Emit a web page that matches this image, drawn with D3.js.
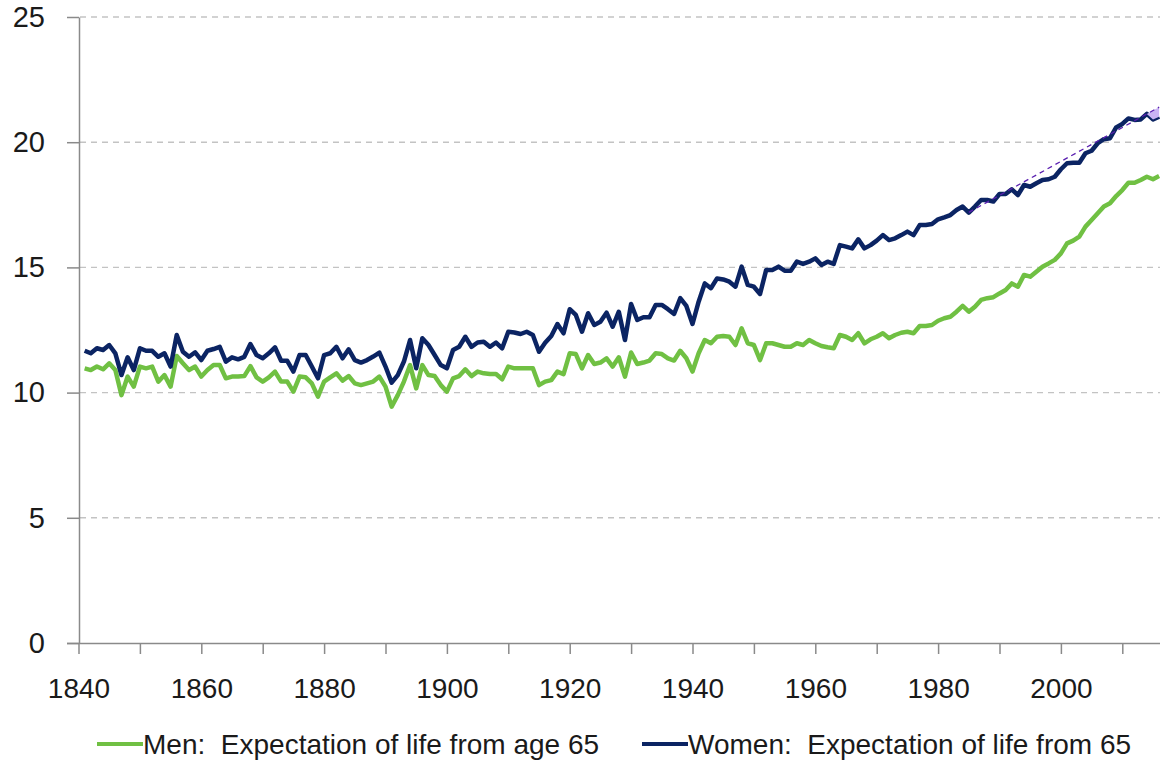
<!DOCTYPE html>
<html>
<head>
<meta charset="utf-8">
<script src="https://cdn.jsdelivr.net/npm/d3@7"></script>
<style>
  body { margin: 0; background: #fff; }
  text { font-family: "Liberation Sans", Arial, sans-serif; fill: #1a1a1a; }
</style>
</head>
<body>
<div id="chart"></div>
<script>
// years shown on the category axis
var years = d3.range(1841, 2017);
var men = [10.97,10.90,11.04,10.93,11.17,10.90,9.90,10.64,10.24,11.04,
  10.97,11.04,10.44,10.70,10.24,11.46,11.17,10.90,11.04,10.64,
  10.90,11.10,11.10,10.57,10.64,10.64,10.66,11.06,10.61,10.44,
  10.61,10.84,10.44,10.44,10.04,10.64,10.61,10.37,9.84,10.44,
  10.61,10.77,10.48,10.66,10.37,10.30,10.37,10.44,10.64,10.24,
  9.44,9.90,10.44,11.10,10.17,11.10,10.70,10.66,10.30,10.04,
  10.57,10.66,10.93,10.66,10.84,10.77,10.74,10.74,10.53,11.04,
  10.97,10.97,10.97,10.97,10.30,10.44,10.50,10.84,10.74,11.57,
  11.54,10.97,11.50,11.14,11.20,11.37,11.04,11.41,10.64,11.60,
  11.14,11.20,11.28,11.57,11.54,11.37,11.28,11.67,11.37,10.84,
  11.57,12.10,11.97,12.23,12.26,12.23,11.90,12.57,11.97,11.90,
  11.30,11.97,11.97,11.90,11.83,11.83,11.97,11.90,12.10,11.97,
  11.86,11.81,11.77,12.30,12.23,12.10,12.37,11.97,12.13,12.23,
  12.37,12.17,12.30,12.39,12.43,12.37,12.66,12.66,12.70,12.87,
  12.97,13.03,13.23,13.46,13.23,13.43,13.70,13.77,13.81,13.96,
  14.10,14.36,14.23,14.70,14.63,14.83,15.03,15.16,15.30,15.56,
  15.96,16.07,16.23,16.63,16.89,17.16,17.43,17.56,17.85,18.09,
  18.38,18.38,18.49,18.62,18.52,18.65];
var women = [11.67,11.57,11.77,11.70,11.90,11.57,10.70,11.41,10.90,11.77,
  11.67,11.67,11.43,11.57,11.04,12.30,11.63,11.43,11.61,11.30,
  11.67,11.74,11.83,11.24,11.41,11.33,11.43,11.94,11.50,11.37,
  11.57,11.81,11.27,11.27,10.84,11.50,11.50,11.04,10.57,11.50,
  11.57,11.83,11.37,11.73,11.30,11.20,11.30,11.44,11.60,11.04,
  10.40,10.70,11.24,12.10,10.97,12.17,11.90,11.50,11.10,10.97,
  11.70,11.83,12.23,11.83,12.00,12.03,11.83,12.00,11.77,12.43,
  12.40,12.34,12.43,12.30,11.63,11.99,12.26,12.74,12.37,13.33,
  13.10,12.43,13.17,12.70,12.83,13.19,12.63,13.23,12.10,13.54,
  12.90,13.01,13.01,13.50,13.50,13.33,13.14,13.77,13.46,12.74,
  13.63,14.36,14.17,14.56,14.52,14.43,14.23,15.03,14.30,14.23,
  13.94,14.90,14.90,15.03,14.87,14.87,15.23,15.14,15.23,15.36,
  15.10,15.23,15.14,15.89,15.83,15.76,16.12,15.76,15.89,16.07,
  16.29,16.09,16.16,16.29,16.43,16.29,16.69,16.69,16.73,16.92,
  17.00,17.09,17.29,17.43,17.19,17.43,17.69,17.69,17.63,17.93,
  17.93,18.12,17.89,18.29,18.22,18.36,18.49,18.52,18.62,18.92,
  19.16,19.18,19.18,19.56,19.66,19.96,20.12,20.16,20.59,20.73,
  20.95,20.89,20.91,21.13,20.91,21.02];
// dashed trend on the women series
var trendYears = [1985, 2016];
var trendValues = [17.2, 21.4];
var yTicks = [0, 5, 10, 15, 20, 25];
var xTicks = d3.range(1840, 2011, 10);
var xLabels = [1840, 1860, 1880, 1900, 1920, 1940, 1960, 1980, 2000];
var legendLabels = ["Men:  Expectation of life from age 65", "Women:  Expectation of life from 65"];
var colors = ["#70c043", "#0b2463"];

var W = 1160, H = 762;
var svg = d3.select("#chart").append("svg").attr("width", W).attr("height", H);

var x = d3.scaleLinear().domain([1840, 2016]).range([78.5, 78.5 + 176 * 6.14]);
var y = d3.scaleLinear().domain([0, 25]).range([643, 17]);

// gridlines
svg.append("g").selectAll("line").data(yTicks.filter(function(d){ return d > 0; }))
  .enter().append("line")
  .attr("x1", 80).attr("x2", W)
  .attr("y1", function(d){ return y(d); }).attr("y2", function(d){ return y(d); })
  .attr("stroke", "#c3c3c3").attr("stroke-width", 1.4).attr("stroke-dasharray", "6,5");

// y axis
var yAxis = svg.append("g").attr("transform", "translate(79,0)")
  .call(d3.axisLeft(y).tickValues(yTicks).tickSize(12).tickPadding(22).tickFormat(d3.format("d")));
yAxis.select(".domain").attr("stroke", "#8a8a8a").attr("stroke-width", 1.5).attr("d", "M0.5,643V17.5");
yAxis.selectAll(".tick line").attr("stroke", "#8a8a8a").attr("stroke-width", 1.5);
yAxis.selectAll(".tick text").style("font-size", "29px").attr("fill", "#1a1a1a");

// x axis
var xAxis = svg.append("g").attr("transform", "translate(0,643)")
  .call(d3.axisBottom(x).tickValues(xTicks).tickSize(11).tickPadding(24)
    .tickFormat(function(d){ return xLabels.indexOf(d) >= 0 ? d : ""; }));
xAxis.select(".domain").attr("stroke", "#8a8a8a").attr("stroke-width", 1.5).attr("d", "M67,0.5H" + W);
xAxis.selectAll(".tick line").attr("stroke", "#8a8a8a").attr("stroke-width", 1.5);
xAxis.selectAll(".tick text").style("font-size", "28px").attr("fill", "#1a1a1a");

var line = d3.line()
  .x(function(d){ return x(d[0]); })
  .y(function(d){ return y(d[1]); });

var series = [men, women];
series.forEach(function(vals, i) {
  svg.append("path")
    .datum(years.map(function(yr, j){ return [yr, vals[j]]; }))
    .attr("d", line)
    .attr("fill", "none")
    .attr("stroke", colors[i])
    .attr("stroke-width", 4.5)
    .attr("stroke-linejoin", "round");
});

// light fill between trend and women at the end
function trendAt(yr) {
  return trendValues[0] + (yr - trendYears[0]) * (trendValues[1] - trendValues[0]) / (trendYears[1] - trendYears[0]);
}
var tail = years.map(function(yr, j){ return [yr, women[j]]; }).filter(function(d){ return d[0] >= 2014; });
svg.append("path").datum(tail)
  .attr("d", d3.area()
    .x(function(d){ return x(d[0]); })
    .y0(function(d){ return y(d[1]); })
    .y1(function(d){ return y(trendAt(d[0])); }))
  .attr("fill", "#c9b4f4");

svg.append("path")
  .datum(trendYears.map(function(yr, j){ return [yr, trendValues[j]]; }))
  .attr("d", line)
  .attr("fill", "none")
  .attr("stroke", "#5a1fb0")
  .attr("stroke-width", 1.3)
  .attr("stroke-dasharray", "5,4");

// legend
var lg = svg.append("g");
var legX = [97, 642];
legendLabels.forEach(function(lab, i) {
  lg.append("line")
    .attr("x1", legX[i]).attr("x2", legX[i] + 46)
    .attr("y1", 744).attr("y2", 744)
    .attr("stroke", colors[i]).attr("stroke-width", 4);
  lg.append("text")
    .attr("x", legX[i] + 46).attr("y", 754)
    .style("font-size", "28px")
    .style("white-space", "pre")
    .text(lab);
});
</script>
</body>
</html>
